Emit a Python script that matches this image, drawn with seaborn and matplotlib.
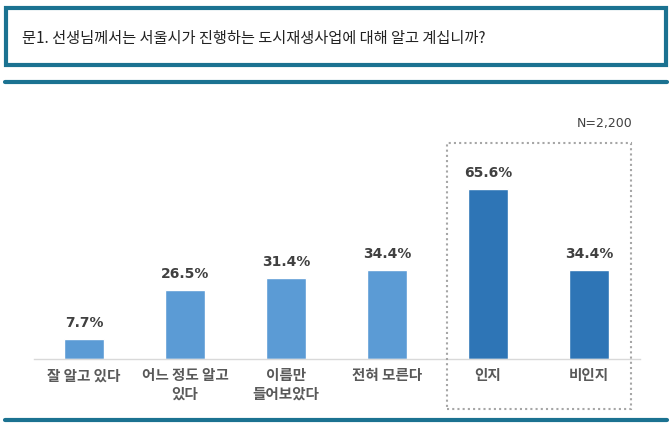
import matplotlib.pyplot as plt
import matplotlib.patches as mpatches
import matplotlib.lines as mlines
import seaborn as sns
import pandas as pd

# data
categories = ['잘 알고 있다', '어느 정도 알고\n있다', '이름만\n들어보았다', '전혀 모른다', '인지', '비인지']
values = [7.7, 26.5, 31.4, 34.4, 65.6, 34.4]
groups = ['detail', 'detail', 'detail', 'detail', 'summary', 'summary']
title = '문1. 선생님께서는 서울시가 진행하는 도시재생사업에 대해 알고 계십니까?'
n_note = 'N=2,200'

df = pd.DataFrame({'cat': categories, 'val': values, 'grp': groups})

sns.set_theme(style='white')
plt.rcParams['font.family'] = ['Noto Sans CJK KR', 'DejaVu Sans']

W, H = 670, 425
fig = plt.figure(figsize=(W / 100, H / 100), dpi=100)

# axes placed so baseline sits at y=359px, x from 33.5 to 639.5px
ax = fig.add_axes([33.5 / W, 1 - 359 / H, 606 / W, 207 / H])
palette = {'detail': '#5B9BD5', 'summary': '#2E75B6'}
sns.barplot(data=df, x='cat', y='val', hue='grp', palette=palette,
            dodge=False, width=0.39, legend=False, ax=ax, saturation=1)

ax.set_xlim(-0.5, 5.5)
ax.set_ylim(0, 80)
ax.set_xlabel('')
ax.set_ylabel('')
ax.set_yticks([])
for s in ['top', 'left', 'right']:
    ax.spines[s].set_visible(False)
ax.spines['bottom'].set_color('#D9D9D9')
ax.spines['bottom'].set_linewidth(1)
ax.tick_params(axis='x', length=0, pad=6)
ax.set_xticks(range(len(categories)))
ax.set_xticklabels(categories, fontsize=10.5, color='#595959',
                   fontweight='bold', linespacing=1.2)
ax.patch.set_alpha(0)

for i, v in enumerate(values):
    ax.text(i, v + 3.5, f'{v}%', ha='center', va='bottom', fontsize=10,
            fontweight='bold', color='#404040', family=['DejaVu Sans'])

teal = '#1B7291'

# title box
fig.patches.append(mpatches.Rectangle((6 / W, 1 - 65 / H), 660 / W, 57 / H,
                                      transform=fig.transFigure, fill=False,
                                      edgecolor=teal, linewidth=3))
fig.text(22 / W, 1 - 38 / H, title, fontsize=11, color='#222222',
         va='center', ha='left')

# separator lines
fig.lines.append(mlines.Line2D([5 / W, 667 / W], [1 - 81.5 / H] * 2,
                               transform=fig.transFigure, color=teal, linewidth=3))
fig.lines.append(mlines.Line2D([5 / W, 667 / W], [1 - 419.5 / H] * 2,
                               transform=fig.transFigure, color=teal, linewidth=3))

# dotted box around summary bars
fig.patches.append(mpatches.Rectangle((447 / W, 1 - 409 / H), 184 / W, 266 / H,
                                      transform=fig.transFigure, fill=False,
                                      edgecolor='#A6A6A6', linewidth=1.5,
                                      linestyle=(0, (1, 1.5))))
fig.text(632 / W, 1 - 123 / H, n_note, fontsize=9, color='#404040',
         ha='right', va='center', family=['DejaVu Sans'])

fig.savefig('out.png', dpi=100)
